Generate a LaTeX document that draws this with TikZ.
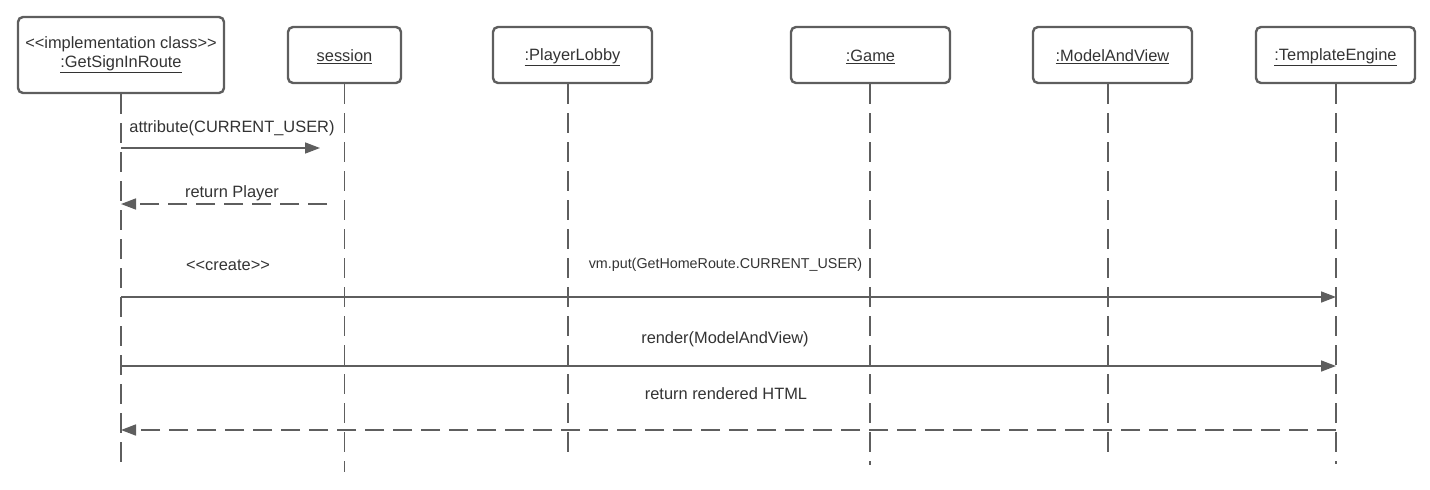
\documentclass[tikz,border=0pt]{standalone}
\usepackage{fontspec}
\setmainfont{Liberation Sans}
\usetikzlibrary{arrows.meta}
\definecolor{edge}{HTML}{5E5E5E}
\definecolor{ink}{HTML}{333333}
% underlined participant name, set slightly low in its box
\newcommand{\lifename}[1]{\raisebox{-2pt}[\height][\depth]{\underline{#1}}}
\begin{document}
\begin{tikzpicture}[x=1pt,y=-1pt,
  obj/.style={draw=edge, line width=2.4pt, rounded corners=5pt, minimum height=56pt,
              inner sep=0pt, text=ink, font=\fontsize{16.4}{19}\selectfont, align=center},
  life/.style={draw=edge, line width=1.6pt, dash pattern=on 20pt off 9pt},
  call/.style={draw=edge, line width=1.6pt, -{Triangle[length=15pt,width=11pt]}},
  reply/.style={call, dash pattern=on 19pt off 9pt},
  lbl/.style={text=ink, font=\fontsize{16.4}{19}\selectfont, inner sep=0pt},
  small/.style={lbl, font=\fontsize{14.3}{17}\selectfont},
  ]
\useasboundingbox (0,0) rectangle (1430,490);

% participants
\node[obj, minimum width=206pt, minimum height=76pt] (gs) at (121,55)
  {<{}<implementation class>{}>\\\underline{:GetSignInRoute}};
\node[obj, minimum width=113pt] (ses) at (344.5,55) {\lifename{session}};
\node[obj, minimum width=159pt] (pl)  at (572.5,55) {\lifename{:PlayerLobby}};
\node[obj, minimum width=159pt] (gm)  at (870.5,55) {\lifename{:Game}};
\node[obj, minimum width=159pt] (mav) at (1112.5,55) {\lifename{:ModelAndView}};
\node[obj, minimum width=159pt] (te)  at (1335.5,55) {\lifename{:TemplateEngine}};

% lifeline ends
\coordinate (gs-end)  at (121,463);
\coordinate (ses-end) at (344.5,472);
\coordinate (pl-end)  at (568,455);
\coordinate (gm-end)  at (870,465);
\coordinate (mav-end) at (1108,455);
\coordinate (te-end)  at (1336,464);

\draw[life] (gs.south)  -- (gs-end);
\draw[life] (ses.south) -- (ses-end);
\draw[life] (pl.south -| pl-end)  -- (pl-end);
\draw[life] (gm.south -| gm-end)  -- (gm-end);
\draw[life] (mav.south -| mav-end) -- (mav-end);
\draw[life] (te.south -| te-end)  -- (te-end);

% message anchors on the lifelines
\coordinate (m1a) at (121,148);  \coordinate (m1b) at (320,148);
\coordinate (m2a) at (327,204);  \coordinate (m2b) at (121,204);
\coordinate (m3a) at (121,297);  \coordinate (m3b) at (1336,297);
\coordinate (m4a) at (121,366);  \coordinate (m4b) at (1336,366);
\coordinate (m5a) at (1336,430); \coordinate (m5b) at (121,430);

% messages
\draw[call]  (m1a) -- (m1b);
\draw[reply] (m2a) -- (m2b);
\draw[call]  (m3a) -- (m3b);
\draw[call]  (m4a) -- (m4b);
\draw[reply] (m5a) -- (m5b);

% message labels
\node[lbl] (l1) at (232,128) {attribute(CURRENT\_USER)};
\node[lbl] (l2) at (232,193) {return Player};
\node[lbl] (l3) at (228,265) {<{}<create>{}>};
\node[small] (l3b) at (725.5,265) {vm.put(GetHomeRoute.CURRENT\_USER)};
\node[lbl] (l4) at (725,339) {render(ModelAndView)};
\node[lbl] (l5) at (726,394) {return rendered HTML};
\end{tikzpicture}
\end{document}
